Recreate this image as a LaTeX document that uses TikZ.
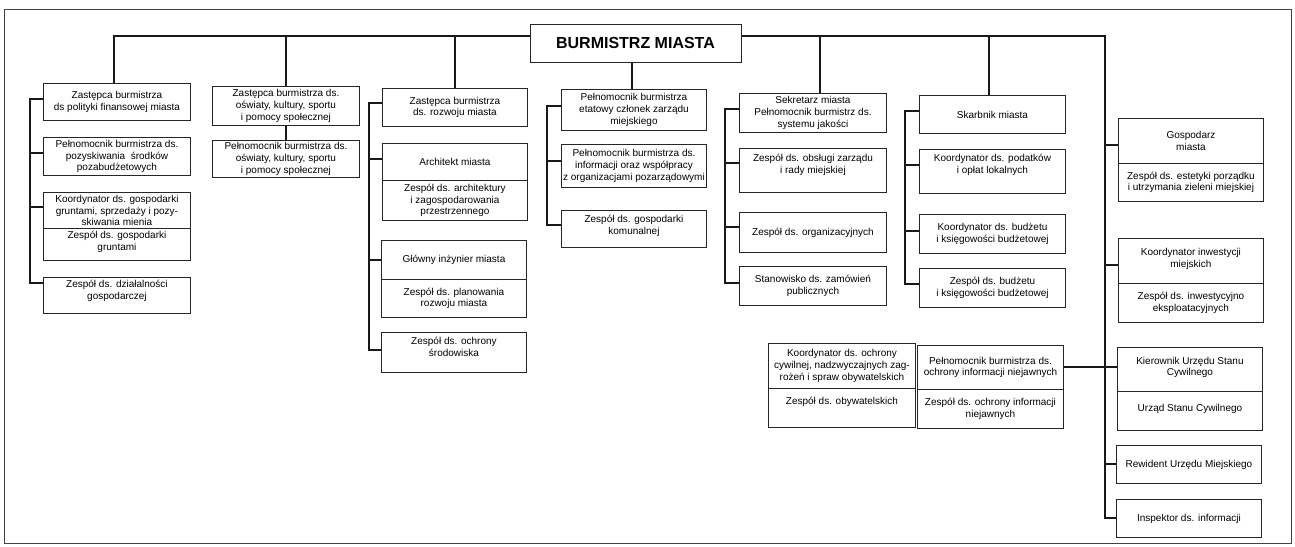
\documentclass[tikz,border=0pt]{standalone}
\usepackage{fontspec}
\setmainfont{Liberation Sans}
\tikzset{
  box/.style={draw=black!85, line width=0.9pt, fill=white, align=center,
    font=\fontsize{10}{11.8}\selectfont, inner sep=0.5pt, anchor=north west},
  raise/.style={text depth=#1},
  conn/.style={line width=2pt, black!90},
  frame/.style={line width=0.9pt, black!75},
}
% name, x, y, width, height, options, text
\newcommand\bx[7]{\node[box, minimum width=#4pt, minimum height=#5pt, #6] (#1) at (#2,#3) {#7};}
\begin{document}
\begin{tikzpicture}[x=1pt,y=-1pt]
\useasboundingbox (0,0) rectangle (1295,546);
\draw[frame] (4,9) rectangle (1291,543);

% column 1
\bx{c1a}{43}{83}{147}{37}{}{Zastępca burmistrza\\ds polityki finansowej miasta}
\bx{c1b}{43}{137}{147}{38}{}{Pełnomocnik burmistrza ds.\\pozyskiwania\ \ środków\\pozabudżetowych}
\bx{c1c}{43}{192}{147}{36}{}{Koordynator ds. gospodarki\\gruntami, sprzedaży i pozy-\\skiwania mienia}
\bx{c1d}{43}{228}{147}{32}{raise=8pt}{Zespół ds. gospodarki\\gruntami}
\bx{c1e}{43}{277}{147}{36}{raise=12pt}{Zespół ds. działalności\\gospodarczej}

% column 2
\bx{c2a}{212}{86}{147}{39}{}{Zastępca burmistrza ds.\\oświaty, kultury, sportu\\i pomocy społecznej}
\bx{c2b}{212}{140}{147}{37}{}{Pełnomocnik burmistrza ds.\\oświaty, kultury, sportu\\i pomocy społecznej}

% column 3
\bx{c3a}{382}{88}{145}{38}{}{Zastępca burmistrza\\ds. rozwoju miasta}
\bx{c3b}{382}{143}{145}{37}{}{Architekt miasta}
\bx{c3c}{382}{180}{145}{40}{}{Zespół ds. architektury\\i zagospodarowania\\przestrzennego}
\bx{c3d}{381}{240}{145}{39}{}{Główny inżynier miasta}
\bx{c3e}{381}{279}{145}{38}{}{Zespół ds. planowania\\rozwoju miasta}
\bx{c3f}{381}{332}{145}{40}{raise=12pt}{Zespół ds. ochrony\\środowiska}

% column 4
\bx{c4a}{561}{89}{145}{41}{}{Pełnomocnik burmistrza\\etatowy członek zarządu\\miejskiego}
\bx{c4b}{561}{144}{145}{43}{}{Pełnomocnik burmistrza ds.\\informacji oraz współpracy\\z organizacjami pozarządowymi}
\bx{c4c}{561}{210}{145}{37}{raise=8pt}{Zespół ds. gospodarki\\komunalnej}

% column 5
\bx{c5a}{739}{93}{147}{39}{}{Sekretarz miasta\\Pełnomocnik burmistrz ds.\\systemu jakości}
\bx{c5b}{739}{148}{147}{44}{raise=14pt}{Zespół ds. obsługi zarządu\\i rady miejskiej}
\bx{c5c}{739}{212}{147}{40}{}{Zespół ds. organizacyjnych}
\bx{c5d}{739}{266}{147}{39}{}{Stanowisko ds. zamówień\\publicznych}

% column 6
\bx{c6a}{919}{95}{146}{38}{}{Skarbnik miasta}
\bx{c6b}{919}{149}{146}{44}{raise=16pt}{Koordynator ds. podatków\\i opłat lokalnych}
\bx{c6c}{919}{214}{146}{39}{}{Koordynator ds. budżetu\\i księgowości budżetowej}
\bx{c6d}{919}{268}{146}{39}{}{Zespół ds. budżetu\\i księgowości budżetowej}

% right column
\bx{r1a}{1118}{118}{145}{45}{}{Gospodarz\\miasta}
\bx{r1b}{1118}{163}{145}{38}{}{Zespół ds. estetyki porządku\\i utrzymania zieleni miejskiej}
\bx{r2a}{1118}{238}{145}{45}{raise=6pt}{Koordynator inwestycji\\miejskich}
\bx{r2b}{1118}{283}{145}{39}{}{Zespół ds. inwestycyjno\\eksploatacyjnych}
\bx{r3a}{1117}{347}{145}{44}{raise=6pt}{Kierownik Urzędu Stanu\\Cywilnego}
\bx{r3b}{1117}{391}{145}{39}{raise=6pt}{Urząd Stanu Cywilnego}
\bx{r4}{1116}{445}{145}{38}{}{Rewident Urzędu Miejskiego}
\bx{r5}{1116}{499}{145}{38}{}{Inspektor ds. informacji}

% bottom pairs
\bx{k1}{768}{343}{147}{45}{}{Koordynator ds. ochrony\\cywilnej, nadzwyczajnych zag-\\rożeń i spraw obywatelskich}
\bx{k2}{768}{388}{147}{39}{raise=14pt}{Zespół ds. obywatelskich}
\bx{p1}{917}{345}{146}{44}{}{Pełnomocnik burmistrza ds.\\ochrony informacji niejawnych}
\bx{p2}{917}{389}{146}{39}{}{Zespół ds. ochrony informacji\\niejawnych}

% spines
\coordinate (tL) at (113,36);
\coordinate (tR) at (1105,36);
\coordinate (s1) at (30,0);
\coordinate (s3) at (369,0);
\coordinate (s4) at (547,0);
\coordinate (s5) at (725,0);
\coordinate (s6) at (905,0);

% trunk and right spine
\draw[conn] ([xshift=-3pt]c1a.north) -- ([xshift=-3pt]c1a.north |- tL) -- (tR)
  -- (tR |- r5.west) -- (r5.west);
\draw[conn] (c2a.north) -- (c2a.north |- tL);
\draw[conn] (c3a.north) -- (c3a.north |- tL);
\draw[conn] ([xshift=-2pt]c4a.north) -- ([xshift=-2pt]c4a.north |- tL);
\draw[conn] ([xshift=7.5pt]c5a.north) -- ([xshift=7.5pt]c5a.north |- tL);
\draw[conn] ([xshift=-3pt]c6a.north) -- ([xshift=-3pt]c6a.north |- tL);

% main box
\node[box, anchor=center, minimum width=211pt, minimum height=38pt,
  font=\fontsize{16}{18}\bfseries] (main) at (635.5,43) {BURMISTRZ MIASTA};

% column 2 link
\draw[conn] (c2a.south) -- (c2b.north);

% column 1 spine
\draw[conn] ([yshift=3pt]c1a.west) -| ([yshift=12pt]c1e.west -| s1) -- ([yshift=12pt]c1e.west);
\draw[conn] ([yshift=3pt]c1b.west) -- ([yshift=3pt]c1b.west -| s1);
\draw[conn] ([yshift=3pt]c1c.west) -- ([yshift=3pt]c1c.west -| s1);

% column 3 spine
\draw[conn] ([yshift=4pt]c3a.west) -| ([yshift=2pt]c3f.west -| s3) -- ([yshift=2pt]c3f.west);
\draw[conn] ([yshift=3pt]c3b.west) -- ([yshift=3pt]c3b.west -| s3);
\draw[conn] (c3d.west) -- (c3d.west -| s3);

% column 4 spine
\draw[conn] ([yshift=4pt]c4a.west) -| ([yshift=4pt]c4c.west -| s4) -- ([yshift=4pt]c4c.west);
\draw[conn] ([yshift=5pt]c4b.west) -- ([yshift=5pt]c4b.west -| s4);

% column 5 spine
\draw[conn] ([yshift=4pt]c5a.west) -| ([yshift=3pt]c5d.west -| s5) -- ([yshift=3pt]c5d.west);
\draw[conn] ([yshift=7pt]c5b.west) -- ([yshift=7pt]c5b.west -| s5);
\draw[conn] ([yshift=5pt]c5c.west) -- ([yshift=5pt]c5c.west -| s5);

% column 6 spine
\draw[conn] ([yshift=3pt]c6a.west) -| ([yshift=4pt]c6d.west -| s6) -- ([yshift=4pt]c6d.west);
\draw[conn] ([yshift=6pt]c6b.west) -- ([yshift=6pt]c6b.west -| s6);
\draw[conn] ([yshift=3pt]c6c.west) -- ([yshift=3pt]c6c.west -| s6);

% right column hooks
\draw[conn] ([yshift=-4pt]r1a.west) -- ([yshift=-4pt]r1a.west -| tR);
\draw[conn] ([yshift=-4pt]r2a.west) -- ([yshift=-4pt]r2a.west -| tR);
\draw[conn] (r4.west) -- (r4.west -| tR);
\draw[conn] (p1.east) -- (p1.east -| r3a.west);
\end{tikzpicture}
\end{document}
